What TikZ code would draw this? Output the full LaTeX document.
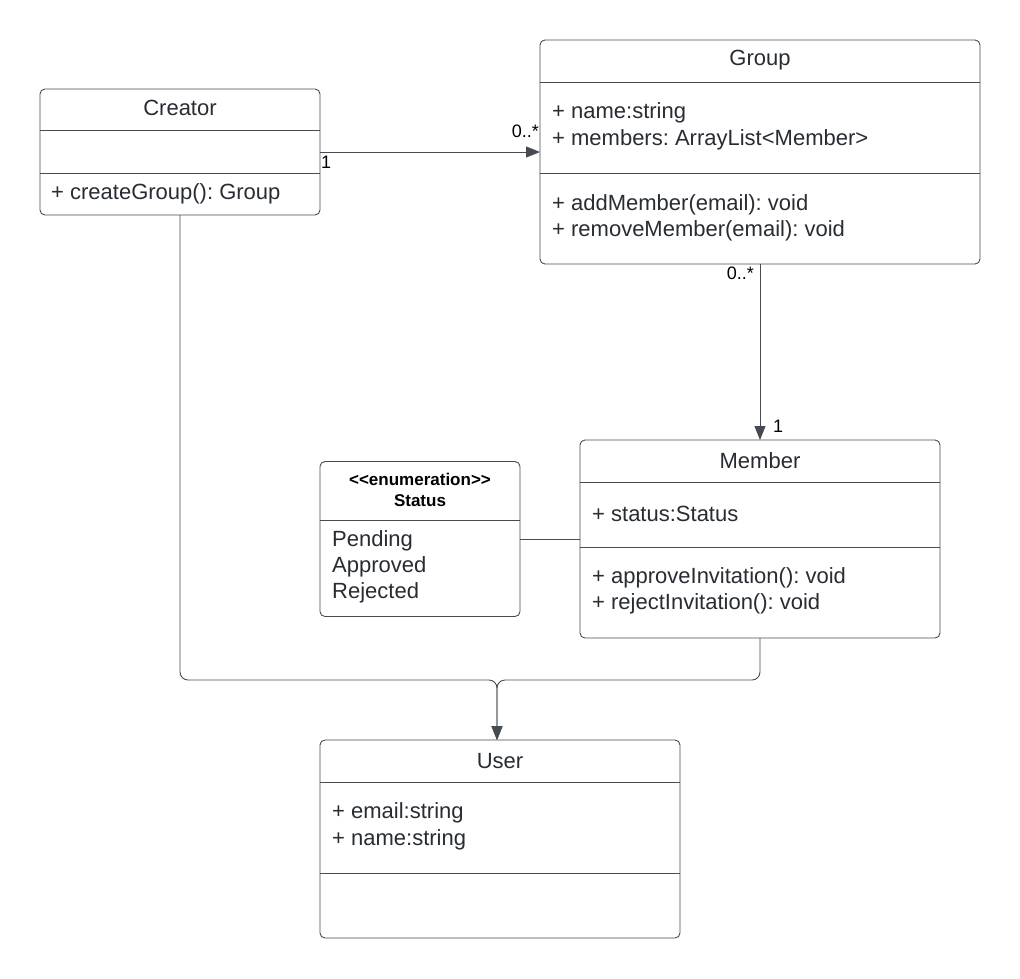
\documentclass[tikz,border=0pt]{standalone}
\usepackage{fontspec}
\setmainfont{Liberation Sans}
\usetikzlibrary{arrows.meta}
\definecolor{ln}{RGB}{70,75,82}
\definecolor{tx}{RGB}{40,44,51}
\frenchspacing
\begin{document}
\begin{tikzpicture}[x=1pt,y=-1pt,
  classbox/.style={draw=ln,line width=0.9pt,rounded corners=5pt,fill=white,inner sep=0pt},
  divider/.style={draw=ln,line width=0.9pt},
  ttl/.style={text=tx,font=\fontsize{22}{25}\selectfont,inner sep=0pt,anchor=center},
  itm/.style={text=tx,font=\fontsize{22}{25}\selectfont,inner sep=0pt,anchor=west},
  mult/.style={text=black,font=\fontsize{18}{20}\selectfont,inner sep=0pt},
  conn/.style={draw=ln,line width=0.9pt,rounded corners=8pt},
  tip/.style={-{Triangle[length=14pt,width=11pt]}}
]
\useasboundingbox (0,0) rectangle (1020,978);
% Creator
\node[classbox,minimum width=280pt,minimum height=126pt] (creator) at (180,152) {};
\draw[divider] (40,130) -- (320,130);
\draw[divider] (40,173) -- (320,173);
\node[ttl] (creatorT) at (180,108) {Creator};
\node[itm] (creatorM) at (51,194) {+ createGroup(): Group};
% Group
\node[classbox,minimum width=440pt,minimum height=224pt] (group) at (760,152) {};
\draw[divider] (540,82) -- (980,82);
\draw[divider] (540,173) -- (980,173);
\node[ttl] (groupT) at (760,60) {Group};
\node[itm] (groupA1) at (552,113) {+ name:string};
\node[itm] (groupA2) at (552,140) {+ members: ArrayList<Member>};
\node[itm] (groupM1) at (552,205) {+ addMember(email): void};
\node[itm] (groupM2) at (552,231) {+ removeMember(email): void};
% Member
\node[classbox,minimum width=360pt,minimum height=198pt] (member) at (760,539) {};
\draw[divider] (580,482) -- (940,482);
\draw[divider] (580,547) -- (940,547);
\node[ttl] (memberT) at (760,461) {Member};
\node[itm] (memberA1) at (592,514) {+ status:Status};
\node[itm] (memberM1) at (592,578) {+ approveInvitation(): void};
\node[itm] (memberM2) at (592,604) {+ rejectInvitation(): void};
% Status
\node[classbox,minimum width=200pt,minimum height=155pt] (status) at (420,539) {};
\draw[divider] (320,520) -- (520,520);
\node[ttl,font=\bfseries\fontsize{17}{21}\selectfont,text=black,align=center] (statusT) at (420,490) {{<}{<}enumeration{>}{>}\\Status};
\node[itm] (statusI1) at (332,541) {Pending};
\node[itm] (statusI2) at (332,567) {Approved};
\node[itm] (statusI3) at (332,593) {Rejected};
% User
\node[classbox,minimum width=360pt,minimum height=198pt] (user) at (500,839) {};
\draw[divider] (320,782) -- (680,782);
\draw[divider] (320,873) -- (680,873);
\node[ttl] (userT) at (500,761) {User};
\node[itm] (userA1) at (332,813) {+ email:string};
\node[itm] (userA2) at (332,840) {+ name:string};
% connectors
\coordinate (cg1) at (320,152);
\coordinate (cg2) at (540,152);
\draw[conn,tip] (cg1) -- (cg2);
\node[mult,anchor=west] (m1) at (321,162) {1};
\node[mult,anchor=east] (m2) at (539,131) {0..*};
\coordinate (gm1) at (760,264);
\coordinate (gm2) at (760,440);
\draw[conn,tip] (gm1) -- (gm2);
\node[mult,anchor=east] (m3) at (754,273) {0..*};
\node[mult,anchor=west] (m4) at (773,426) {1};
\draw[conn] (status.east) -- (member.west);
\coordinate (cu1) at (180,215);
\coordinate (mu1) at (760,638);
\coordinate (uj) at (497,680);
\coordinate (ut) at (497,740);
\draw[conn,tip] (cu1) -- (180,680) -- (uj) -- (ut);
\draw[conn,tip] (mu1) -- (760,680) -- (uj) -- (ut);
\end{tikzpicture}
\end{document}
